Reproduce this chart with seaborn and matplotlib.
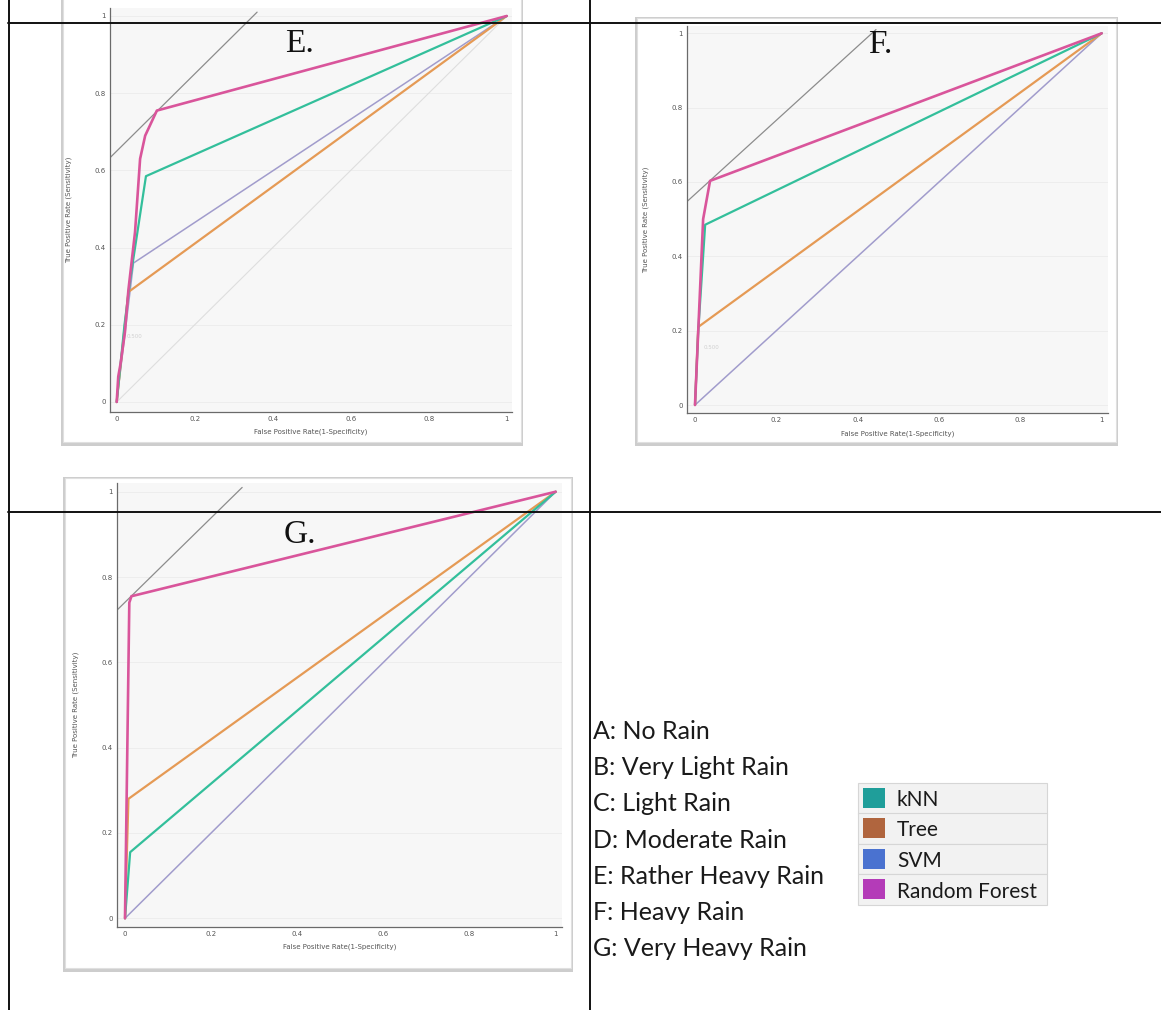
import numpy as np
import pandas as pd
import matplotlib
matplotlib.use("Agg")
import matplotlib.pyplot as plt
from matplotlib.patches import Rectangle
from matplotlib.lines import Line2D
import seaborn as sns

# ---------------- data ----------------
models = ["kNN", "Tree", "SVM", "Random Forest"]

# Panel E (Rather Heavy Rain)
E_knn_x = [0, 0.02, 0.035, 0.075, 1]
E_knn_y = [0, 0.20, 0.32, 0.585, 1]
E_tree_x = [0, 0.03, 1]
E_tree_y = [0, 0.285, 1]
E_svm_x = [0, 0.043, 1]
E_svm_y = [0, 0.36, 1]
E_rf_x = [0, 0.004, 0.01, 0.021, 0.03, 0.047, 0.06, 0.073, 0.103, 1]
E_rf_y = [0, 0.066, 0.10, 0.18, 0.29, 0.44, 0.63, 0.69, 0.755, 1]
E_iso_x = [-0.017, 0.36]
E_iso_y = [0.633, 1.01]

# Panel F (Heavy Rain)
F_knn_x = [0, 0.008, 0.025, 1]
F_knn_y = [0, 0.20, 0.485, 1]
F_tree_x = [0, 0.008, 1]
F_tree_y = [0, 0.21, 1]
F_svm_x = [0, 1]
F_svm_y = [0, 1]
F_rf_x = [0, 0.008, 0.02, 0.037, 1]
F_rf_y = [0, 0.20, 0.50, 0.603, 1]
F_iso_x = [-0.02, 0.445]
F_iso_y = [0.547, 1.01]

# Panel G (Very Heavy Rain)
G_knn_x = [0, 0.012, 1]
G_knn_y = [0, 0.155, 1]
G_tree_x = [0, 0.008, 1]
G_tree_y = [0, 0.28, 1]
G_svm_x = [0, 1]
G_svm_y = [0, 1]
G_rf_x = [0, 0.01, 0.015, 1]
G_rf_y = [0, 0.74, 0.755, 1]
G_iso_x = [-0.019, 0.272]
G_iso_y = [0.722, 1.01]

tick_vals = [0, 0.2, 0.4, 0.6, 0.8, 1]
tick_labels = ["0", "0.2", "0.4", "0.6", "0.8", "1"]

class_labels = ["A: No Rain", "B: Very Light Rain", "C: Light Rain",
                "D: Moderate Rain", "E: Rather Heavy Rain", "F: Heavy Rain",
                "G: Very Heavy Rain"]
legend_labels = ["kNN", "Tree", "SVM", "Random Forest"]
legend_colors = ["#1f9e9a", "#b0653e", "#4a72d0", "#b43bb8"]

line_colors = {"kNN": "#33bf9b", "Tree": "#e59a55", "SVM": "#a19ccc",
               "Random Forest": "#d9559b"}
line_widths = {"kNN": 1.6, "Tree": 1.6, "SVM": 1.1, "Random Forest": 1.9}

# ---------------- figure ----------------
sns.set_style("white")
plt.rcParams["font.family"] = ["DejaVu Sans"]
W, H = 1161, 1010
fig = plt.figure(figsize=(W / 100, H / 100), dpi=100)


def fx(x):
    return x / W


def fy(y):
    return 1 - y / H


def frame(x0, y0, x1, y1):
    # soft shadow
    fig.add_artist(Rectangle((fx(x0 - 2), fy(y1 + 4)), (x1 - x0 + 4) / W,
                             (y1 - y0 + 5) / H, transform=fig.transFigure,
                             facecolor="#cdcdcd", edgecolor="none", zorder=-3))
    fig.add_artist(Rectangle((fx(x0), fy(y1)), (x1 - x0) / W, (y1 - y0) / H,
                             transform=fig.transFigure, facecolor="white",
                             edgecolor="#e0e0e0", lw=0.8, zorder=-2))


def make_axes(x0p, x1p, y0p, y1p, xlim, ylim):
    sx = x1p - x0p
    sy = y0p - y1p
    left = x0p + xlim[0] * sx
    right = x0p + xlim[1] * sx
    bottom = y0p - ylim[0] * sy
    top = y0p - ylim[1] * sy
    ax = fig.add_axes([fx(left), fy(bottom), (right - left) / W, (bottom - top) / H])
    ax.set_xlim(*xlim)
    ax.set_ylim(*ylim)
    ax.set_facecolor("#f7f7f7")
    for s in ["top", "right"]:
        ax.spines[s].set_visible(False)
    for s in ["left", "bottom"]:
        ax.spines[s].set_color("#6a6a6a")
        ax.spines[s].set_linewidth(0.9)
    ax.set_xticks(tick_vals)
    ax.set_xticklabels(tick_labels)
    ax.set_yticks(tick_vals)
    ax.set_yticklabels(tick_labels)
    ax.tick_params(length=0, labelsize=5, colors="#555555", pad=3)
    ax.grid(True, axis="y", color="#ececec", lw=0.6)
    ax.set_axisbelow(True)
    return ax


def draw_panel(ax, data, iso_x, iso_y, diag=False):
    if diag:
        ax.plot([0, 1], [0, 1], color="#dedede", lw=0.8, zorder=1)
    ax.plot(iso_x, iso_y, color="#8c8c8c", lw=0.9, zorder=2)
    rows = []
    for m, (xs, ys) in data.items():
        for i, (a, b) in enumerate(zip(xs, ys)):
            rows.append({"fpr": a, "tpr": b, "model": m, "order": i})
    df = pd.DataFrame(rows)
    for m in ["SVM", "Tree", "kNN", "Random Forest"]:
        sub = df[df["model"] == m]
        sns.lineplot(data=sub, x="fpr", y="tpr", sort=False, estimator=None,
                     color=line_colors[m], lw=line_widths[m], ax=ax, legend=False,
                     zorder=3)
    ax.set_xlabel("False Positive Rate(1-Specificity)", fontsize=5, color="#555555", labelpad=5)
    ax.set_ylabel("True Positive Rate (Sensitivity)", fontsize=5, color="#555555", labelpad=16)


# Panel E
frame(63, -10, 521, 442)
axE = make_axes(116.7, 506.7, 402, 16, (-0.017, 1.014), (-0.025, 1.02))
draw_panel(axE, {"kNN": (E_knn_x, E_knn_y), "Tree": (E_tree_x, E_tree_y),
                 "SVM": (E_svm_x, E_svm_y), "Random Forest": (E_rf_x, E_rf_y)},
           E_iso_x, E_iso_y, diag=True)
axE.text(0.025, 0.165, "0.500", fontsize=4, color="#d0d0d0")

# Panel F
frame(637, 18, 1116, 442)
axF = make_axes(695, 1101.7, 405, 33.3, (-0.02, 1.015), (-0.0215, 1.02))
draw_panel(axF, {"kNN": (F_knn_x, F_knn_y), "Tree": (F_tree_x, F_tree_y),
                 "SVM": (F_svm_x, F_svm_y), "Random Forest": (F_rf_x, F_rf_y)},
           F_iso_x, F_iso_y)
axF.text(0.02, 0.15, "0.500", fontsize=4, color="#d0d0d0")

# Panel G
frame(65, 478, 571, 968)
axG = make_axes(125, 555.7, 918.3, 491.7, (-0.019, 1.015), (-0.02, 1.02))
draw_panel(axG, {"kNN": (G_knn_x, G_knn_y), "Tree": (G_tree_x, G_tree_y),
                 "SVM": (G_svm_x, G_svm_y), "Random Forest": (G_rf_x, G_rf_y)},
           G_iso_x, G_iso_y)

# Panel letters
for lab, (px, py) in zip(["E.", "F.", "G."], [(300, 44), (880, 45), (300, 535)]):
    fig.text(fx(px), fy(py), lab, fontsize=24, family="Liberation Serif",
             ha="center", va="center", color="#111111", zorder=6)

# Class list
for i, t in enumerate(class_labels):
    fig.text(fx(593), fy(739 + 36.2 * i), t, fontsize=18, family="Lato",
             ha="left", va="baseline", color="#1a1a1a", zorder=6)

# Legend box
lx0, lx1 = 858, 1047
row_tops = [783, 813, 843.5, 874]
row_h = 30.5
for i, (lab, col) in enumerate(zip(legend_labels, legend_colors)):
    top = row_tops[i]
    fig.add_artist(Rectangle((fx(lx0), fy(top + row_h)), (lx1 - lx0) / W, row_h / H,
                             transform=fig.transFigure, facecolor="#f2f2f2",
                             edgecolor="#d6d6d6", lw=0.8, zorder=4))
    fig.add_artist(Rectangle((fx(863), fy(top + 25)), 22 / W, 20 / H,
                             transform=fig.transFigure, facecolor=col,
                             edgecolor="none", zorder=5))
    fig.text(fx(897), fy(top + 23.5), lab, fontsize=15, family="Lato",
             ha="left", va="baseline", color="#1a1a1a", zorder=6)

# Table rules
rule = dict(color="#111111", lw=1.4, zorder=10, transform=fig.transFigure)
fig.add_artist(Line2D([fx(8), fx(1161)], [fy(23), fy(23)], **rule))
fig.add_artist(Line2D([fx(8), fx(1161)], [fy(512), fy(512)], **rule))
fig.add_artist(Line2D([fx(8.5), fx(8.5)], [fy(0), fy(1010)], **rule))
fig.add_artist(Line2D([fx(590), fx(590)], [fy(0), fy(1010)], **rule))

fig.savefig("out.png", dpi=100)
